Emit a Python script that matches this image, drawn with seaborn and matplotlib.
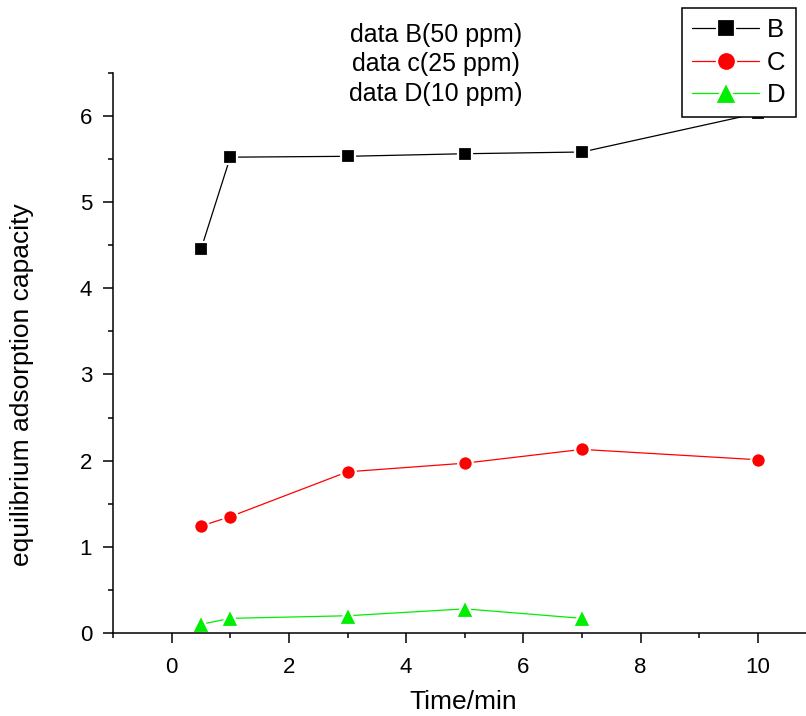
import pandas as pd
import matplotlib.pyplot as plt
from matplotlib.ticker import MultipleLocator
import seaborn as sns

# data
time_b = [0.5, 1, 3, 5, 7, 10]
cap_b = [4.45, 5.52, 5.53, 5.56, 5.58, 6.03]
time_c = [0.5, 1, 3, 5, 7, 10]
cap_c = [1.24, 1.35, 1.87, 1.97, 2.13, 2.01]
time_d = [0.5, 1, 3, 5, 7]
cap_d = [0.10, 0.17, 0.20, 0.28, 0.17]
notes = ['data B(50 ppm)', 'data c(25 ppm)', 'data D(10 ppm)']

df = pd.concat([
    pd.DataFrame({'Time': time_b, 'Cap': cap_b, 'Series': 'B'}),
    pd.DataFrame({'Time': time_c, 'Cap': cap_c, 'Series': 'C'}),
    pd.DataFrame({'Time': time_d, 'Cap': cap_d, 'Series': 'D'}),
])

sns.set_style('ticks')
plt.rcParams['font.family'] = ['Liberation Sans', 'DejaVu Sans']
plt.rcParams.update({'text.color': 'black', 'axes.labelcolor': 'black',
                     'xtick.color': 'black', 'ytick.color': 'black'})

fig = plt.figure(figsize=(8.06, 7.16), dpi=100)
ax = fig.add_axes([113 / 806, 83 / 716, 1 - 113 / 806, 560.3 / 716])

sns.lineplot(
    data=df, x='Time', y='Cap', hue='Series', style='Series',
    palette={'B': 'black', 'C': '#ff0000', 'D': '#00ee00'},
    markers={'B': 's', 'C': 'o', 'D': '^'}, dashes=False,
    markersize=10.5, markeredgewidth=1.6, linewidth=0.9, ax=ax,
)
# the triangles are a bit larger in the reference
for ln in ax.lines:
    if ln.get_marker() == '^':
        ln.set_markersize(12.5)

ax.set_xlim(-1, 10.82)
ax.set_ylim(0, 6.5)
ax.xaxis.set_major_locator(MultipleLocator(2))
ax.xaxis.set_minor_locator(MultipleLocator(1))
ax.yaxis.set_major_locator(MultipleLocator(1))
ax.yaxis.set_minor_locator(MultipleLocator(0.5))
ax.tick_params(which='major', length=7, width=1.1, labelsize=16)
ax.tick_params(axis='x', which='major', pad=10)
ax.tick_params(axis='y', which='major', pad=8)
ax.tick_params(which='minor', length=3.5, width=1.1)
sns.despine(ax=ax)
for s in ['left', 'bottom']:
    ax.spines[s].set_linewidth(1.1)
    ax.spines[s].set_color('black')

ax.set_xlabel('Time/min', fontsize=19)
ax.set_ylabel('equilibrium adsorption capacity', fontsize=19)
ax.xaxis.set_label_coords((463 - 113) / 693, -(702 - 633) / 560.3)
ax.yaxis.set_label_coords(-(113 - 22) / 693, (633 - 385) / 560.3)
ax.xaxis.label.set_va('center')
ax.yaxis.label.set_va('center')

for i, t in enumerate(notes):
    fig.text(436 / 806, 1 - (35 + 29.5 * i) / 716, t, ha='center', va='center', fontsize=18)

handles, labels = ax.get_legend_handles_labels()
leg = ax.legend(handles, labels, loc='upper left', bbox_to_anchor=(682 / 806, 1 - 8 / 716),
                bbox_transform=fig.transFigure, frameon=True, fancybox=False,
                edgecolor='black', fontsize=18.5, handlelength=2.6, borderpad=0.4,
                labelspacing=0.32, handletextpad=0.3, borderaxespad=0, markerscale=1.3)
leg.get_frame().set_linewidth(1.1)
leg.get_frame().set_alpha(1)
leg.set_zorder(10)

fig.savefig('out.png', dpi=100)
